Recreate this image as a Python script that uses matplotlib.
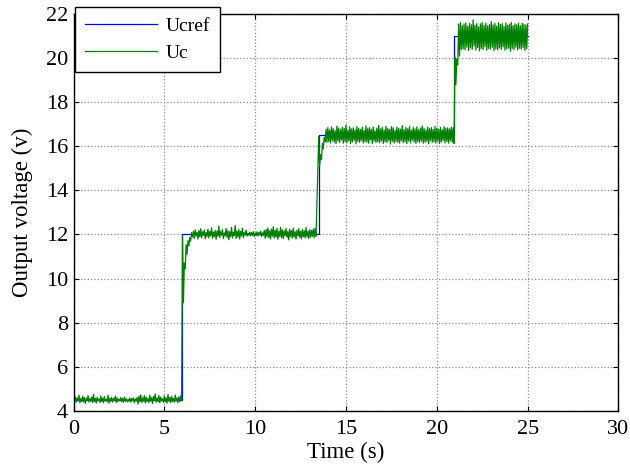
import numpy as np
import matplotlib
matplotlib.use("Agg")
import matplotlib.pyplot as plt

plt.rcParams['font.family'] = ['Liberation Serif', 'DejaVu Serif']
plt.rcParams['mathtext.fontset'] = 'stix'

# Reference voltage steps (time of change, level)
ref_times = [0.0, 5.95, 13.5, 20.95, 25.0]
ref_levels = [4.5, 12.0, 16.5, 21.0, 21.0]

# Measured capacitor voltage, sampled every 0.05 s, one list per reference level
dt = 0.05
uc_seg1_start = 0.0
uc_seg1 = [
    4.52, 4.41, 4.63, 4.38, 4.58, 4.45, 4.71, 4.36, 4.55, 4.42, 4.66, 4.40, 4.60, 4.33, 4.57, 4.46, 4.69, 4.39, 4.54, 4.44,
    4.62, 4.37, 4.74, 4.41, 4.56, 4.35, 4.61, 4.47, 4.53, 4.38, 4.67, 4.42, 4.58, 4.36, 4.64, 4.45, 4.52, 4.40, 4.70, 4.34,
    4.57, 4.43, 4.61, 4.39, 4.55, 4.46, 4.66, 4.37, 4.59, 4.42, 4.53, 4.45, 4.60, 4.41, 4.56, 4.38, 4.62, 4.44, 4.54, 4.40,
    4.51, 4.43, 4.57, 4.39, 4.55, 4.46, 4.58, 4.36, 4.53, 4.44, 4.60, 4.30, 4.65, 4.41, 4.72, 4.38, 4.58, 4.43, 4.68, 4.35,
    4.61, 4.42, 4.55, 4.37, 4.70, 4.44, 4.59, 4.33, 4.64, 4.46, 4.76, 4.39, 4.57, 4.41, 4.69, 4.36, 4.62, 4.45, 4.54, 4.38,
    4.67, 4.40, 4.58, 4.34, 4.73, 4.43, 4.60, 4.37, 4.65, 4.42, 4.56, 4.39, 4.71, 4.44, 4.59, 4.36, 4.63, 4.41, 4.68, 4.45,
]
uc_seg2_start = 6.0
uc_seg2 = [
    11.95, 8.90, 10.70, 10.45, 11.55, 11.10, 11.72, 11.48, 11.86, 11.70, 12.08,
    11.88, 12.15, 11.82, 12.21, 11.93, 12.10, 11.79, 12.18, 11.90, 12.26, 11.85, 12.12, 11.96, 12.20, 11.80, 12.09, 11.91, 12.24, 11.84, 12.14,
    11.95, 12.30, 11.83, 12.11, 11.89, 12.19, 11.78, 12.16, 11.92, 12.38, 11.86, 12.13, 11.97, 12.22, 11.81, 12.07, 11.94, 12.27, 11.87, 12.17,
    11.76, 12.12, 11.90, 12.33, 11.84, 12.10, 11.95, 12.41, 11.82, 12.15, 11.88, 12.23, 11.79, 12.14, 11.93, 12.29, 11.85, 12.08, 11.98, 12.20,
    11.92, 12.05, 11.97, 12.11, 11.94, 12.08, 11.96, 12.13, 11.90, 12.06, 11.95, 12.12, 11.93, 12.09, 11.98, 12.15, 11.91, 12.07, 11.96, 12.18,
    11.83, 12.22, 11.89, 12.30, 11.86, 12.17, 11.80, 12.25, 11.92, 12.35, 11.84, 12.19, 11.88, 12.28, 11.78, 12.14, 11.91, 12.32, 11.85, 12.21,
    11.81, 12.16, 11.94, 12.27, 11.87, 12.13, 11.75, 12.24, 11.90, 12.18, 11.83, 12.29, 11.88, 12.12, 11.79, 12.20, 11.93, 12.26, 11.86, 12.15,
    11.80, 12.23, 11.90, 12.17, 11.84, 12.31, 11.89, 12.14, 11.82, 12.22, 11.87, 12.19, 11.91, 12.25, 11.85, 12.28, 11.92,
]
uc_seg3_start = 13.5
uc_seg3 = [
    16.45, 15.10, 15.62, 15.40, 16.12, 15.88, 16.40, 16.20,
    16.78, 16.18, 16.85, 16.22, 16.74, 16.15, 16.88, 16.26, 16.80, 16.19, 16.71, 16.12, 16.92, 16.24, 16.83, 16.17, 16.76, 16.28, 16.86, 16.14,
    16.81, 16.21, 16.97, 16.16, 16.73, 16.25, 16.89, 16.13, 16.79, 16.20, 16.84, 16.27, 16.75, 16.11, 16.90, 16.23, 16.82, 16.18, 16.77, 16.26,
    16.87, 16.15, 16.72, 16.22, 16.93, 16.19, 16.80, 16.14, 16.85, 16.29, 16.76, 16.12, 16.88, 16.24, 16.70, 16.17, 16.83, 16.21, 16.95, 16.16,
    16.79, 16.25, 16.86, 16.13, 16.74, 16.20, 16.91, 16.18, 16.81, 16.27, 16.77, 16.10, 16.89, 16.23, 16.84, 16.15, 16.72, 16.22, 16.87, 16.19,
    16.82, 16.14, 16.78, 16.26, 16.94, 16.17, 16.75, 16.21, 16.86, 16.12, 16.80, 16.24, 16.90, 16.16, 16.73, 16.28, 16.85, 16.20, 16.79, 16.13,
    16.88, 16.22, 16.76, 16.17, 16.83, 16.25, 16.92, 16.14, 16.81, 16.19, 16.74, 16.23, 16.87, 16.11, 16.80, 16.26, 16.85, 16.18, 16.77, 16.21,
    16.90, 16.15, 16.82, 16.24, 16.78, 16.12, 16.86, 16.20, 16.75, 16.27, 16.89, 16.16, 16.81, 16.22, 16.84, 16.14, 16.79, 16.25, 16.87, 16.19, 16.83, 16.13,
]
uc_seg4_start = 21.0
uc_seg4 = [
    20.05, 18.80, 19.95, 19.70, 21.55, 20.10, 21.62, 20.40,
    21.48, 20.42, 21.55, 20.38, 21.60, 20.50, 21.45, 20.35, 21.58, 20.46, 21.52, 20.40, 21.74, 20.55, 21.50, 20.37, 21.57, 20.48, 21.43, 20.33,
    21.56, 20.44, 21.62, 20.39, 21.49, 20.52, 21.59, 20.36, 21.47, 20.45, 21.54, 20.41, 21.66, 20.49, 21.51, 20.34, 21.58, 20.43, 21.46, 20.38,
    21.61, 20.47, 21.53, 20.40, 21.57, 20.51, 21.44, 20.36, 21.60, 20.42, 21.50, 20.46, 21.55, 20.31, 21.63, 20.44, 21.48, 20.39, 21.56, 20.50,
    21.52, 20.37, 21.59, 20.45, 21.47, 20.41, 21.58, 20.48, 21.54, 20.35, 21.51, 20.43, 21.55,
]

uc_t, uc_v = [], []
for start, seg in [(uc_seg1_start, uc_seg1), (uc_seg2_start, uc_seg2),
                   (uc_seg3_start, uc_seg3), (uc_seg4_start, uc_seg4)]:
    uc_t.extend(start + dt * np.arange(len(seg)))
    uc_v.extend(seg)

x_ticks = [0, 5, 10, 15, 20, 25, 30]
y_ticks = [4, 6, 8, 10, 12, 14, 16, 18, 20, 22]

fig = plt.figure(figsize=(6.3, 4.71), dpi=100)
ax = fig.add_axes([0.1167, 0.128, 0.865, 0.842])

ax.plot(ref_times, ref_levels, drawstyle='steps-post', color='#0000ff', lw=0.9, label='Ucref')
ax.plot(uc_t, uc_v, color='#008000', lw=0.9, label='Uc')

ax.set_xlim(0, 30)
ax.set_ylim(4, 22)
ax.set_xticks(x_ticks)
ax.set_yticks(y_ticks)
ax.grid(True, linestyle=':', color='#8c8c8c', lw=0.9)
ax.tick_params(direction='in', top=True, right=True, length=3.5, width=0.8,
               labelsize=16, colors='black')
ax.tick_params(axis='x', pad=7)
ax.tick_params(axis='y', pad=4)
for s in ax.spines.values():
    s.set_linewidth(1.0)

ax.set_xlabel('Time (s)', fontsize=16.5, labelpad=2)
ax.set_ylabel('Output voltage (v)', fontsize=16.5, labelpad=9)

leg = ax.legend(loc='upper left', bbox_to_anchor=(0.003, 1.017), borderaxespad=0,
                fontsize=14, fancybox=False, framealpha=1, edgecolor='black',
                handlelength=3.7, handletextpad=0.45, borderpad=0.5, labelspacing=0.5)
leg.get_frame().set_linewidth(1.0)
leg.set_zorder(5)

fig.savefig('out.png', dpi=100)
